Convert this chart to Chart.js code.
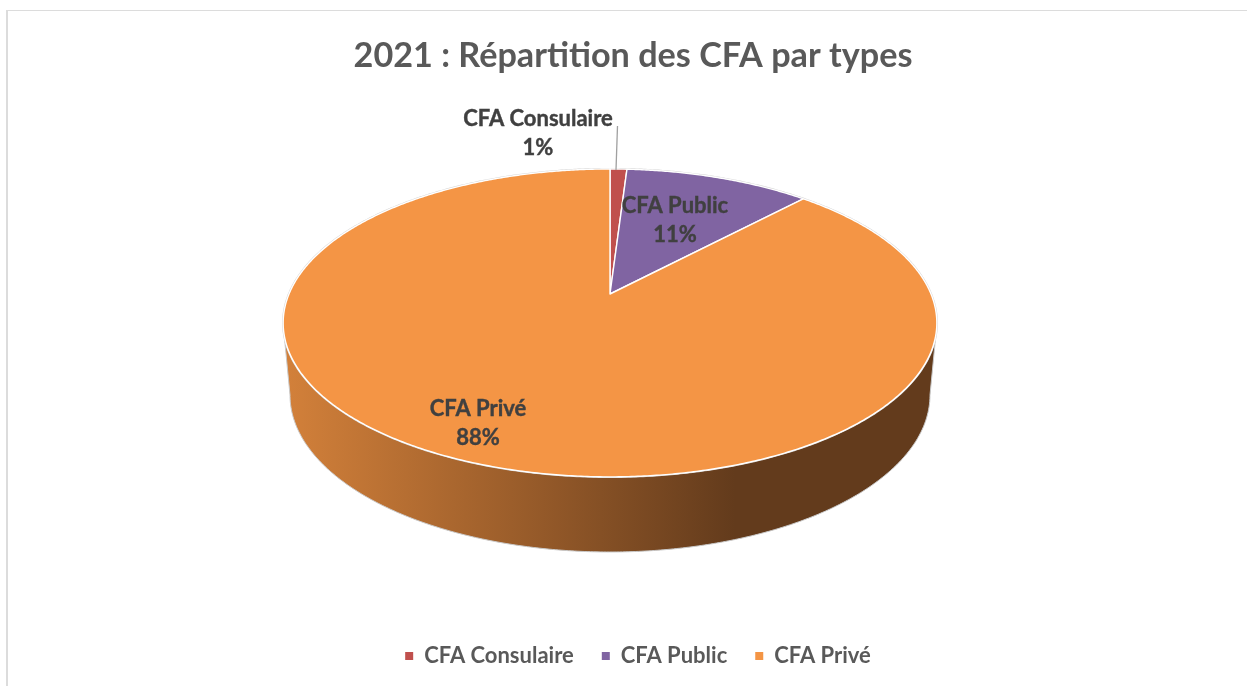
<!DOCTYPE html>
<html>
<head>
<meta charset="utf-8">
<script src="https://cdn.jsdelivr.net/npm/chart.js@4/dist/chart.umd.min.js"></script>
<style>
html,body{margin:0;padding:0;background:#fff;overflow:hidden;width:1247px;height:686px}
#wrap{position:absolute;left:6px;top:10px;width:1254px;height:690px;box-sizing:border-box;border-left:2px solid #dcdcdc;border-top:1.5px solid #dcdcdc}
canvas{position:absolute;left:-8px;top:-11.5px}
</style>
</head>
<body>
<div id="wrap"><canvas id="c" width="1266" height="700"></canvas></div>
<script>
const titleText = "2021 : Répartition des CFA par types";
const categories = ["CFA Consulaire", "CFA Public", "CFA Privé"];
const shares = [1, 11, 88];
const sliceColors = ["#C0504D", "#8064A2", "#F49545"];

const FONT = "Lato, Carlito, Calibri, sans-serif";
const P = {cx:610, cy:294, A:321, B:148.5, k:0.188};
function proj(a){
  const x=Math.cos(a), y=Math.sin(a), w=1-P.k*y;
  return [P.cx+P.A*x/w, P.cy+P.B*y/w];
}
function slicePath(ctx,s,e){
  ctx.beginPath();
  ctx.moveTo(P.cx,P.cy);
  const n=Math.max(2,Math.ceil((e-s)/0.008));
  for(let i=0;i<=n;i++){const p=proj(s+(e-s)*i/n);ctx.lineTo(p[0],p[1]);}
  ctx.closePath();
}
const pie3d = {
  id:'pie3d',
  afterLayout(chart){
    chart.legend.left+=5; chart.legend.right+=5;
  },
  beforeDatasetsDraw(chart){
    const ctx=chart.ctx, meta=chart.getDatasetMeta(0);
    ctx.save();
    const T={cx:610,cy:323,rx:327,ry:154}, B={cx:610,cy:395,rx:320,ry:157};
    const g=ctx.createLinearGradient(288,0,735,0);
    g.addColorStop(0,'#D2803A');g.addColorStop(0.5,'#9C5E2B');g.addColorStop(1,'#633B1C');
    ctx.beginPath();
    ctx.moveTo(T.cx-T.rx,T.cy);
    for(let t=Math.PI;t>=0;t-=0.01){ctx.lineTo(B.cx+B.rx*Math.cos(t),B.cy+B.ry*Math.sin(t));}
    ctx.lineTo(B.cx+B.rx,B.cy);
    ctx.lineTo(T.cx+T.rx,T.cy);
    ctx.closePath();
    ctx.fillStyle=g;ctx.fill();
    ctx.strokeStyle='#c9c9c9';ctx.lineWidth=1;ctx.stroke();
    slicePath(ctx,0,Math.PI*2);
    ctx.strokeStyle='#d4d4d4';ctx.lineWidth=2.2;ctx.stroke();
    meta.data.forEach((arc,i)=>{
      const p=arc.getProps(['startAngle','endAngle'],true);
      slicePath(ctx,p.startAngle,p.endAngle);
      ctx.fillStyle=sliceColors[i];ctx.fill();
      ctx.strokeStyle='#fff';ctx.lineWidth=1.4;ctx.lineJoin='round';ctx.stroke();
    });
    ctx.restore();
    return false;
  },
  afterDraw(chart){
    const ctx=chart.ctx;
    ctx.save();
    ctx.strokeStyle='#a0a0a0';ctx.lineWidth=1.3;
    ctx.beginPath();ctx.moveTo(617.5,126);ctx.lineTo(616,170);ctx.stroke();
    const pos=[[538,119],[675,206],[478,409]];
    ctx.font='bold 22px '+FONT;ctx.fillStyle='#404040';ctx.strokeStyle='#404040';ctx.lineWidth=0.4;
    ctx.textAlign='center';ctx.textBaseline='middle';
    categories.forEach((c,i)=>{
      ctx.fillText(c,pos[i][0],pos[i][1]);ctx.strokeText(c,pos[i][0],pos[i][1]);
      const t=shares[i]+'%';
      ctx.fillText(t,pos[i][0],pos[i][1]+29);ctx.strokeText(t,pos[i][0],pos[i][1]+29);
    });
    ctx.restore();
  }
};
new Chart(document.getElementById('c'),{
  type:'pie',
  data:{labels:categories,datasets:[{data:shares,backgroundColor:sliceColors,borderWidth:0}]},
  options:{
    responsive:false,animation:false,
    layout:{padding:{top:35,bottom:23}},
    plugins:{
      tooltip:{enabled:false},
      title:{display:true,text:titleText,color:'#595959',font:{family:FONT,size:34.2,weight:'bold'},padding:{top:0,bottom:10}},
      legend:{position:'bottom',labels:{color:'#595959',boxWidth:8,boxHeight:8,padding:28,font:{family:FONT,size:22,weight:'bold'}}}
    }
  },
  plugins:[pie3d]
});
</script>
</body>
</html>
